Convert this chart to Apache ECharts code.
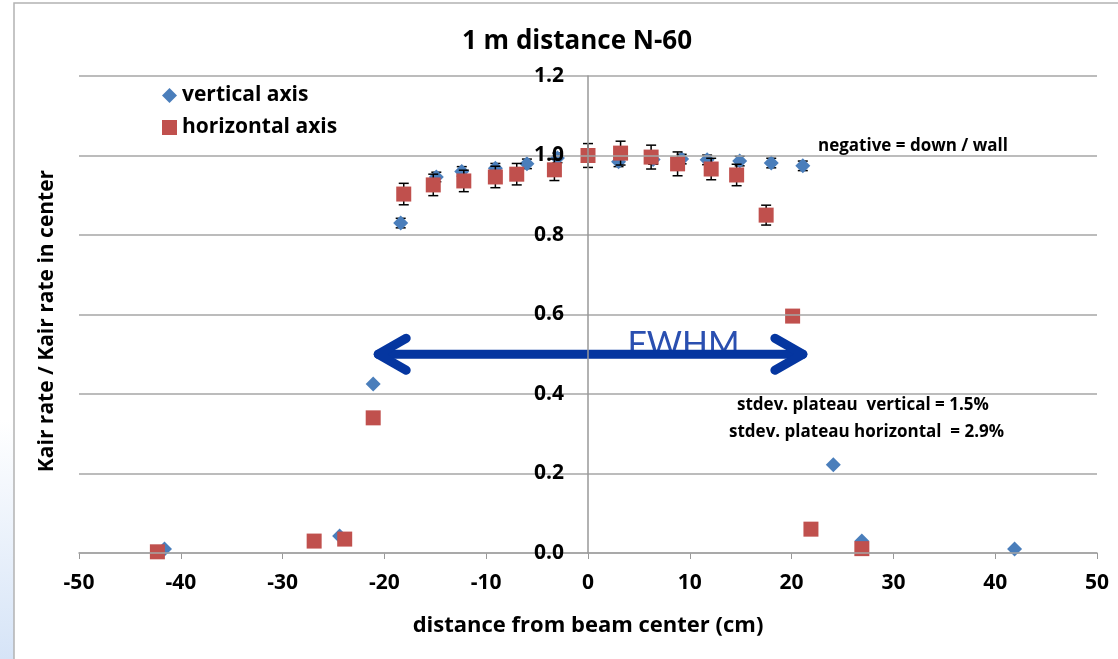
<!DOCTYPE html>
<html>
<head>
    <meta charset="utf-8">
    <title>1 m distance N-60</title>
    <script src="https://cdn.jsdelivr.net/npm/echarts@6/dist/echarts.min.js"></script>
    <style>
        html, body { margin: 0; padding: 0; background: #fff; }
        #main { width: 1118px; height: 659px; }
    </style>
</head>
<body>
    <div id="main"></div>
    <script>
        // vertical axis scan (blue diamonds): [x, ratio]
        var vertX = [-41.6, -24.4, -21.1, -18.4, -14.9, -12.4, -9.1, -6.0, -3.0, 0, 3.0, 6.4, 9.2, 11.7, 14.9, 18.0, 21.1, 24.1, 26.9, 41.9];
        var vertY = [0.010, 0.043, 0.425, 0.830, 0.946, 0.960, 0.968, 0.979, 0.994, 1.000, 0.984, 0.990, 0.991, 0.989, 0.986, 0.981, 0.974, 0.222, 0.030, 0.010];
        var vertErr = [0, 0, 0, 0.012, 0.012, 0.012, 0.012, 0.012, 0.012, 0.012, 0.012, 0.012, 0.012, 0.012, 0.012, 0.012, 0.012, 0, 0, 0];

        // horizontal axis scan (red squares)
        var horX = [-42.3, -26.9, -23.9, -21.1, -18.1, -15.2, -12.2, -9.1, -7.0, -3.3, 0, 3.2, 6.2, 8.8, 12.1, 14.6, 17.5, 20.1, 21.9, 26.9];
        var horY = [0.003, 0.030, 0.035, 0.340, 0.903, 0.926, 0.936, 0.946, 0.953, 0.964, 1.000, 1.006, 0.996, 0.979, 0.966, 0.951, 0.850, 0.596, 0.060, 0.011];
        var horErr = [0, 0, 0, 0, 0.027, 0.027, 0.027, 0.027, 0.027, 0.027, 0.030, 0.030, 0.030, 0.030, 0.027, 0.027, 0.025, 0.010, 0, 0];

        // FWHM arrow: from x, to x, at ratio
        var fwhm = [-21.0, 21.5, 0.5];

        var font = '"Open Sans", Lato, sans-serif';

        function pairs(xs, ys) {
            return xs.map(function (x, i) { return [x, ys[i]]; });
        }
        function errData(xs, ys, es) {
            var out = [];
            for (var i = 0; i < xs.length; i++) {
                if (es[i] > 0) out.push([xs[i], ys[i], es[i]]);
            }
            return out;
        }

        function renderErr(params, api) {
            var x = api.value(0), y = api.value(1), e = api.value(2);
            var top = api.coord([x, y + e]);
            var bot = api.coord([x, y - e]);
            var style = { stroke: '#000', lineWidth: 1.5 };
            return {
                type: 'group',
                children: [
                    { type: 'line', shape: { x1: top[0], y1: top[1], x2: bot[0], y2: bot[1] }, style: style },
                    { type: 'line', shape: { x1: top[0] - 5, y1: top[1], x2: top[0] + 5, y2: top[1] }, style: style },
                    { type: 'line', shape: { x1: bot[0] - 5, y1: bot[1], x2: bot[0] + 5, y2: bot[1] }, style: style }
                ]
            };
        }

        function renderArrow(params, api) {
            var a = api.coord([api.value(0), api.value(2)]);
            var b = api.coord([api.value(1), api.value(2)]);
            var st = { stroke: '#0536a0', lineWidth: 9, lineCap: 'round', lineJoin: 'round', fill: null };
            var h = 16;
            return {
                type: 'group',
                children: [
                    { type: 'text', x: (a[0] + b[0]) / 2 + 93, y: a[1] + 8,
                      style: { text: 'FWHM', fill: '#2a4fb0', font: '34px Lato, sans-serif', align: 'center', verticalAlign: 'bottom' } },
                    { type: 'line', shape: { x1: a[0] + 4, y1: a[1], x2: b[0] - 4, y2: b[1] }, style: st },
                    { type: 'polyline', shape: { points: [[a[0] + h + 16, a[1] - h], [a[0] + 4, a[1]], [a[0] + h + 16, a[1] + h]] }, style: st },
                    { type: 'polyline', shape: { points: [[b[0] - h - 16, b[1] - h], [b[0] - 4, b[1]], [b[0] - h - 16, b[1] + h]] }, style: st }
                ]
            };
        }

        var chart = echarts.init(document.getElementById('main'));
        chart.setOption({
            backgroundColor: '#fff',
            animation: false,
            title: {
                text: '1 m distance N-60',
                left: 457,
                top: 24,
                textStyle: { fontFamily: font, fontSize: 26, fontWeight: 'bold', color: '#000' }
            },
            legend: {
                orient: 'vertical',
                left: 157,
                top: 80,
                itemWidth: 15,
                itemHeight: 15,
                itemGap: 11,
                data: [
                    { name: 'vertical axis', icon: 'diamond' },
                    { name: 'horizontal axis', icon: 'rect' }
                ],
                textStyle: { fontFamily: font, fontSize: 21, fontWeight: 'bold', color: '#000' }
            },
            grid: { left: 79, right: 21, top: 76, bottom: 106, outerBoundsMode: 'none', containLabel: false },
            xAxis: {
                type: 'value',
                min: -50, max: 50, interval: 10,
                name: 'distance from beam center (cm)',
                nameLocation: 'middle',
                nameGap: 62,
                nameTextStyle: { fontFamily: font, fontSize: 22, fontWeight: 'bold', color: '#000' },
                axisLine: { onZero: false, lineStyle: { color: '#999', width: 1.5 } },
                axisTick: { show: true, length: 6, lineStyle: { color: '#999' } },
                axisLabel: { margin: 20, fontFamily: font, fontSize: 21, fontWeight: 'bold', color: '#000' },
                splitLine: { show: false }
            },
            yAxis: {
                type: 'value',
                min: 0, max: 1.2, interval: 0.2,
                z: 10,
                offset: -509,
                axisLine: { show: true, onZero: false, lineStyle: { color: '#999', width: 1.5 } },
                axisTick: { show: false },
                axisLabel: {
                    margin: 24, fontFamily: font, fontSize: 21, fontWeight: 'bold', color: '#000',
                    formatter: function (v) { return v.toFixed(1); }
                },
                splitLine: { show: true, lineStyle: { color: '#a6a6a6', width: 1.5 } }
            },
            graphic: [
                { type: 'rect', z: -10, shape: { x: 0, y: 420, width: 14, height: 239 },
                  style: { fill: new echarts.graphic.LinearGradient(0, 0, 0, 1, [
                      { offset: 0, color: '#ffffff' }, { offset: 1, color: '#d6e4f7' }]) } },
                { type: 'rect', z: -5, shape: { x: 14, y: 3, width: 1120, height: 670 },
                  style: { fill: null, stroke: '#b3b3b3', lineWidth: 1.5 } },
                { type: 'text', x: 47, y: 321, rotation: Math.PI / 2,
                  style: { text: 'Kair rate / Kair rate in center', font: 'bold 21px ' + font, fill: '#000',
                           align: 'center', verticalAlign: 'middle' } },
                { type: 'text', x: 818, y: 138,
                  style: { text: 'negative = down / wall', font: 'bold 17px ' + font, fill: '#000' } },
                { type: 'text', x: 737, y: 397,
                  style: { text: 'stdev. plateau  vertical = 1.5%', font: 'bold 17px ' + font, fill: '#000' } },
                { type: 'text', x: 729, y: 424,
                  style: { text: 'stdev. plateau horizontal  = 2.9%', font: 'bold 17px ' + font, fill: '#000' } }
            ],
            series: [
                {
                    type: 'custom', name: 'vert err', z: 3, silent: true,
                    renderItem: renderErr, data: errData(vertX, vertY, vertErr)
                },
                {
                    type: 'scatter', name: 'vertical axis', z: 4,
                    symbol: 'diamond', symbolSize: 15,
                    itemStyle: { color: '#4a7ebb', opacity: 1 },
                    data: pairs(vertX, vertY)
                },
                {
                    type: 'custom', name: 'hor err', z: 5, silent: true,
                    renderItem: renderErr, data: errData(horX, horY, horErr)
                },
                {
                    type: 'scatter', name: 'horizontal axis', z: 6,
                    symbol: 'rect', symbolSize: 15,
                    itemStyle: { color: '#c0504d', opacity: 1 },
                    data: pairs(horX, horY)
                },
                {
                    type: 'custom', name: 'FWHM', z: 8, silent: true,
                    renderItem: renderArrow, data: [fwhm]
                }
            ]
        });
    </script>
</body>
</html>
